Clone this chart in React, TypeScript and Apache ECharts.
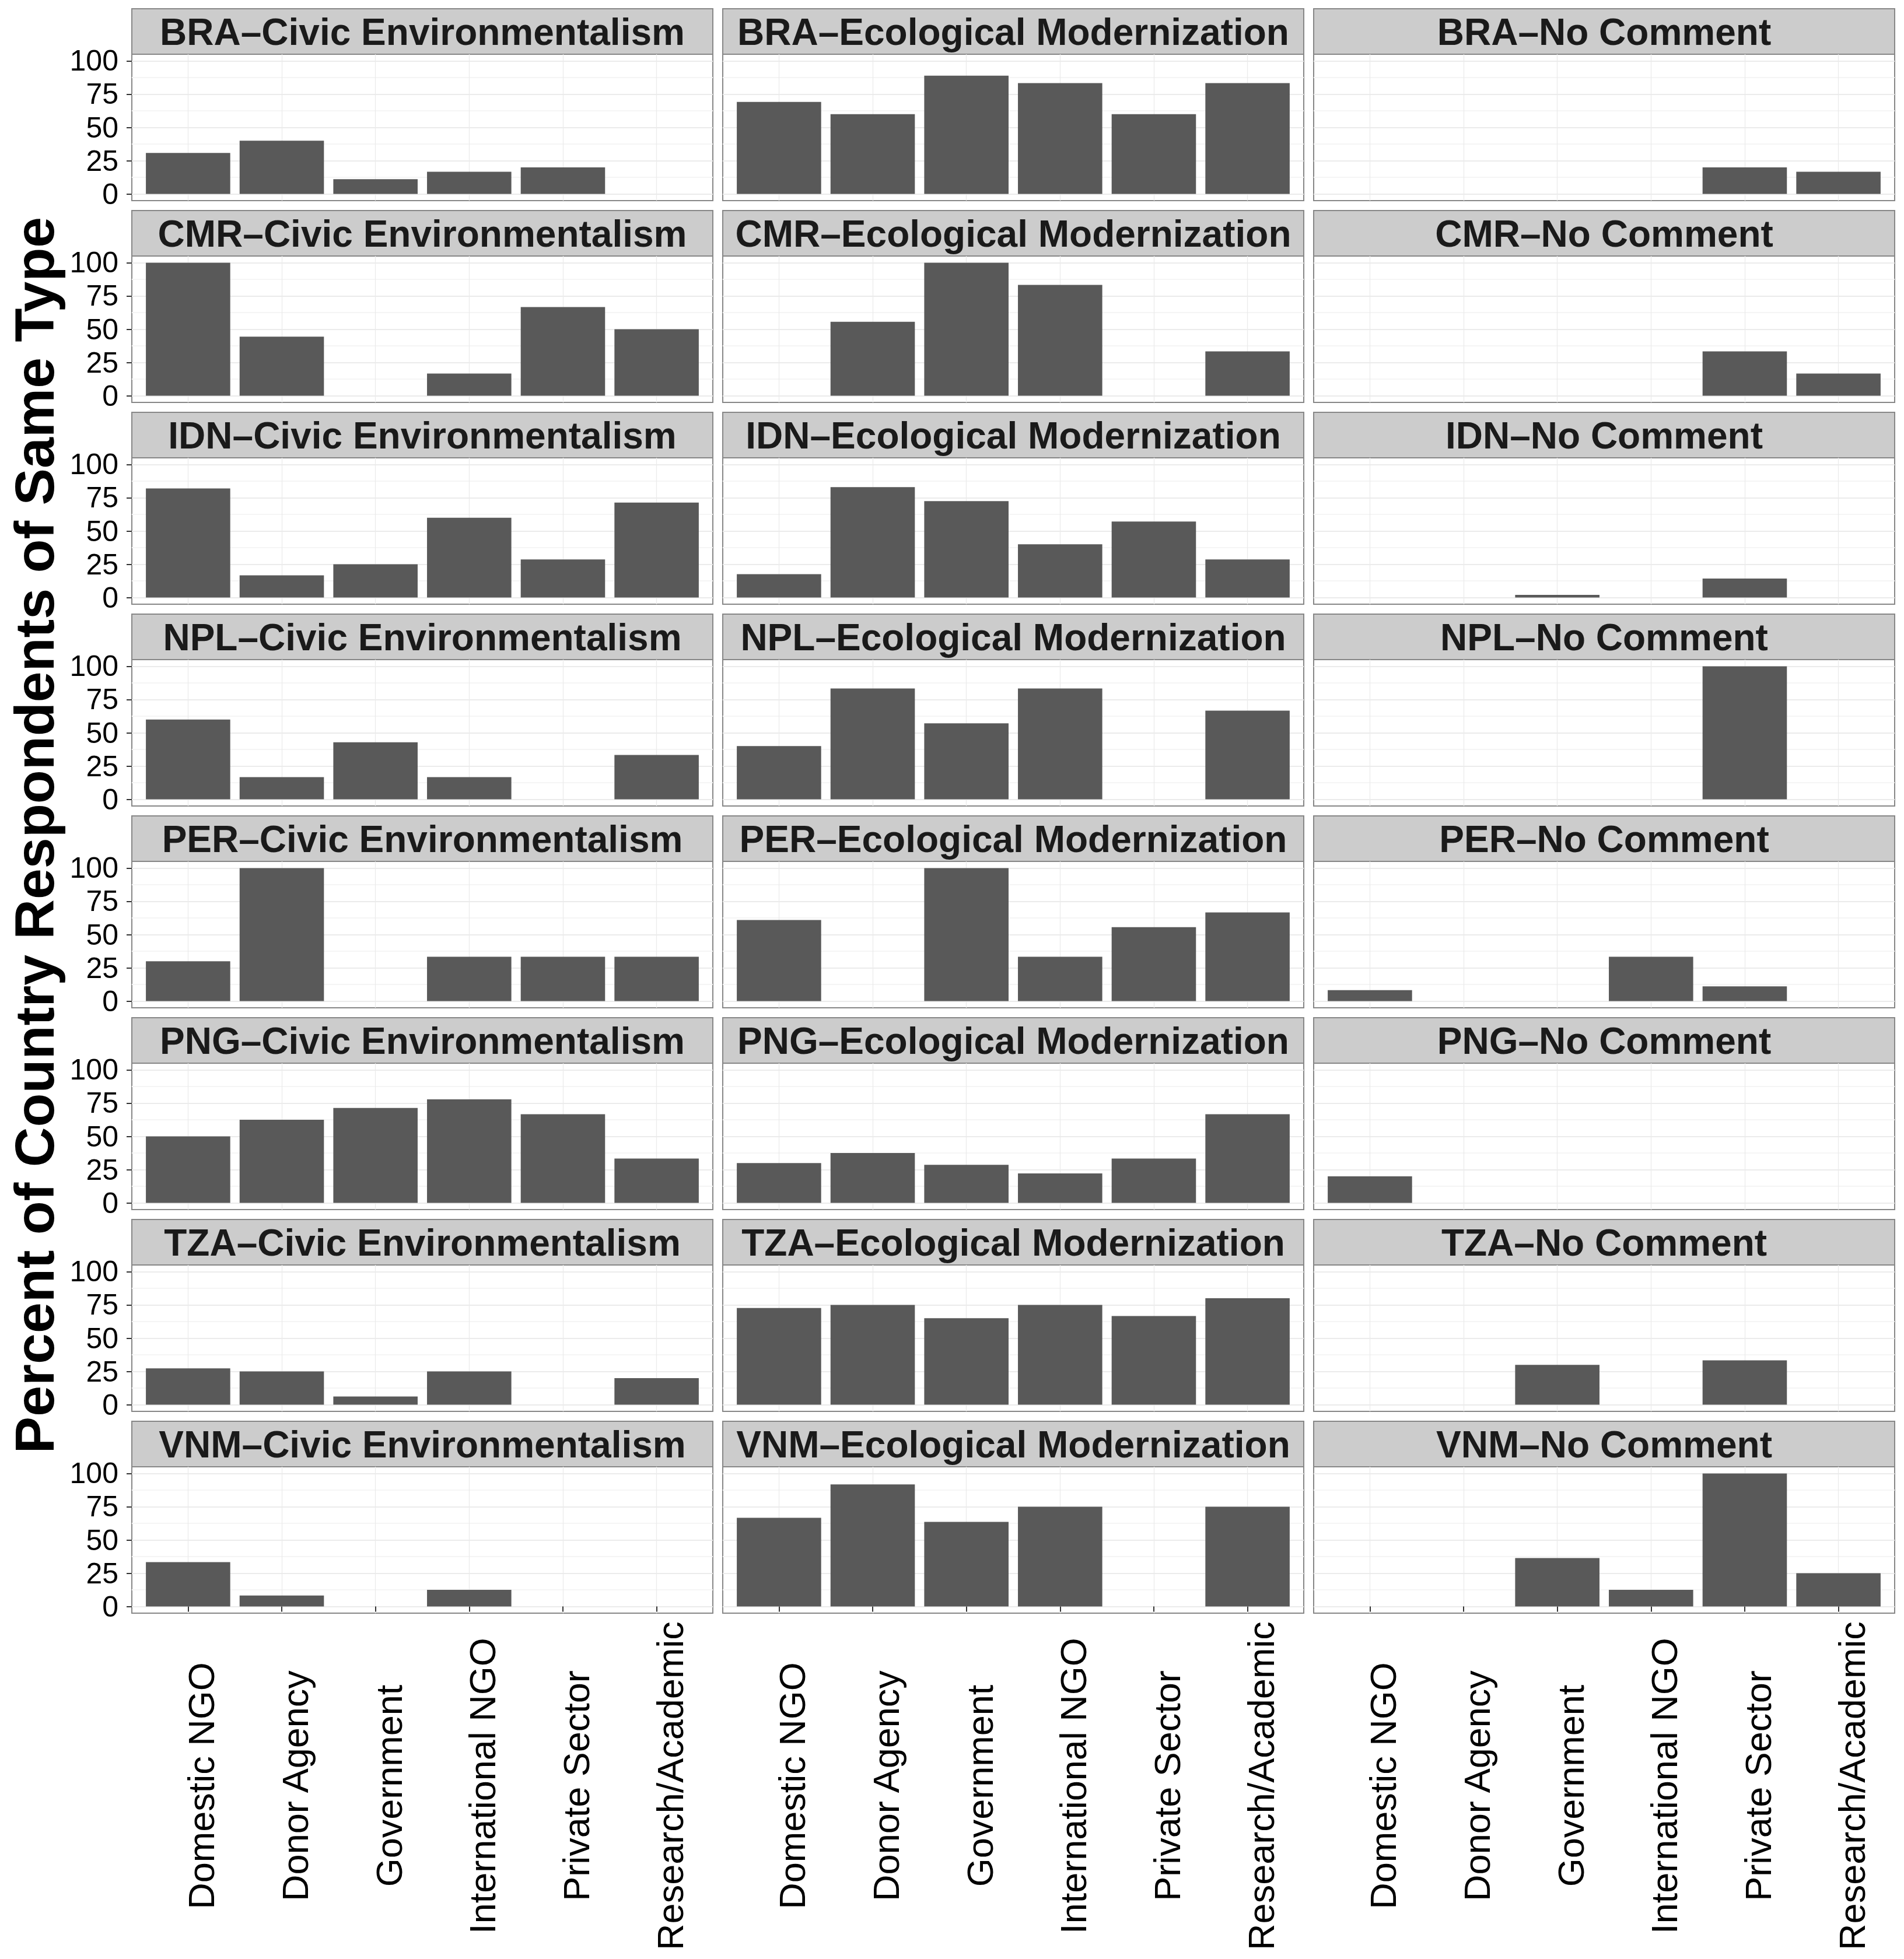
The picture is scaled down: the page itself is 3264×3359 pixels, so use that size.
import React, { useEffect, useRef } from "react";
import * as echarts from "echarts";

// ---------- data ----------
const CATEGORIES = [
  "Domestic NGO",
  "Donor Agency",
  "Government",
  "International NGO",
  "Private Sector",
  "Research/Academic",
];
const COUNTRIES = ["BRA", "CMR", "IDN", "NPL", "PER", "PNG", "TZA", "VNM"];
const FRAMES = ["Civic Environmentalism", "Ecological Modernization", "No Comment"];
const Y_TICKS = [0, 25, 50, 75, 100];
const Y_TITLE = "Percent of Country Respondents of Same Type";

// null = no bar
const BRA_CE = [30.8, 40, 11.1, 16.7, 20, null];
const BRA_EM = [69.2, 60, 88.9, 83.3, 60, 83.3];
const BRA_NC = [null, null, null, null, 20, 16.7];
const CMR_CE = [100, 44.4, null, 16.7, 66.7, 50];
const CMR_EM = [null, 55.6, 100, 83.3, null, 33.3];
const CMR_NC = [null, null, null, null, 33.3, 16.7];
const IDN_CE = [82, 16.7, 25, 60, 28.6, 71.4];
const IDN_EM = [17.6, 83, 72.5, 40, 57.1, 28.6];
const IDN_NC = [null, null, 2, null, 14.3, null];
const NPL_CE = [60, 16.7, 42.9, 16.7, null, 33.3];
const NPL_EM = [40, 83.3, 57.1, 83.3, null, 66.7];
const NPL_NC = [null, null, null, null, 100, null];
const PER_CE = [30, 100, null, 33.3, 33.3, 33.3];
const PER_EM = [61, null, 100, 33.3, 55.6, 66.7];
const PER_NC = [8.3, null, null, 33.3, 11.1, null];
const PNG_CE = [50, 62.5, 71.4, 77.8, 66.7, 33.3];
const PNG_EM = [30, 37.5, 28.6, 22.2, 33.3, 66.7];
const PNG_NC = [20, null, null, null, null, null];
const TZA_CE = [27.3, 25, 6.2, 25, null, 20];
const TZA_EM = [72.7, 75, 65, 75, 66.7, 80];
const TZA_NC = [null, null, 30, null, 33.3, null];
const VNM_CE = [33.3, 8.3, null, 12.5, null, null];
const VNM_EM = [66.7, 91.7, 63.6, 75, null, 75];
const VNM_NC = [null, null, 36.4, 12.5, 100, 25];

const TABLE: Record<string, (number | null)[][]> = {
  BRA: [BRA_CE, BRA_EM, BRA_NC],
  CMR: [CMR_CE, CMR_EM, CMR_NC],
  IDN: [IDN_CE, IDN_EM, IDN_NC],
  NPL: [NPL_CE, NPL_EM, NPL_NC],
  PER: [PER_CE, PER_EM, PER_NC],
  PNG: [PNG_CE, PNG_EM, PNG_NC],
  TZA: [TZA_CE, TZA_EM, TZA_NC],
  VNM: [VNM_CE, VNM_EM, VNM_NC],
};

// ---------- layout ----------
const W = 3264;
const H = 3359;
const FONT = "'Liberation Sans', Arial, Helvetica, sans-serif";
const COL_LEFT0 = 226;
const COL_PITCH = 1013;
const PANEL_W = 996;
const ROW_TOP0 = 15;
const ROW_PITCH = 346;
const STRIP_H = 78;
const PANEL_H = 251;
const Y_EXP = 5;
const Y_MAX = 100;
const X_EXP = 0.6;
const BORDER = "#878787";
const BAR = "#595959";

function buildOption() {
  const grid: any[] = [];
  const xAxis: any[] = [];
  const yAxis: any[] = [];
  const series: any[] = [];
  const graphic: any[] = [];
  const inset = (PANEL_H * Y_EXP) / (Y_MAX + 2 * Y_EXP);
  const catPos = CATEGORIES.map((_, i) => i + 1);
  const xMin = 1 - X_EXP;
  const xMax = CATEGORIES.length + X_EXP;

  COUNTRIES.forEach((country, r) => {
    FRAMES.forEach((frame, c) => {
      const left = COL_LEFT0 + c * COL_PITCH;
      const stripTop = ROW_TOP0 + r * ROW_PITCH;
      const top = stripTop + STRIP_H;
      const isBottom = r === COUNTRIES.length - 1;
      const isLeft = c === 0;
      const gOuter = grid.length;

      grid.push({
        left,
        top,
        width: PANEL_W,
        height: PANEL_H,
        show: true,
        backgroundColor: "#ffffff",
        borderColor: BORDER,
        borderWidth: 2,
        containLabel: false,
        outerBoundsMode: "none",
      });
      grid.push({
        left,
        top: top + inset,
        width: PANEL_W,
        height: PANEL_H - 2 * inset,
        show: false,
        containLabel: false,
        outerBoundsMode: "none",
      });

      xAxis.push({
        type: "value",
        gridIndex: gOuter,
        min: xMin,
        max: xMax,
        axisLine: { show: false },
        axisTick: {
          show: isBottom,
          customValues: catPos,
          length: 9,
          lineStyle: { color: "#333333", width: 2 },
        },
        axisLabel: {
          show: isBottom,
          customValues: catPos,
          formatter: (v: number) => CATEGORIES[Math.round(v) - 1] ?? "",
          rotate: 90,
          align: "center",
          verticalAlign: "top",
          lineHeight: 46,
          margin: 296,
          fontSize: 63,
          color: "#000000",
          fontFamily: FONT,
        },
        splitLine: { show: true, lineStyle: { color: "#EBEBEB", width: 1.3 } },
      });
      xAxis.push({
        type: "value",
        gridIndex: gOuter + 1,
        min: xMin,
        max: xMax,
        show: false,
      });
      yAxis.push({
        type: "value",
        gridIndex: gOuter,
        min: -Y_EXP,
        max: Y_MAX + Y_EXP,
        show: false,
      });
      yAxis.push({
        type: "value",
        gridIndex: gOuter + 1,
        min: Y_TICKS[0],
        max: Y_TICKS[Y_TICKS.length - 1],
        interval: Y_TICKS[1] - Y_TICKS[0],
        axisLine: { show: false },
        axisTick: {
          show: isLeft,
          length: 9,
          lineStyle: { color: "#333333", width: 2 },
        },
        axisLabel: {
          show: isLeft,
          margin: 23,
          fontSize: 50,
          lineHeight: 48,
          color: "#000000",
          fontFamily: FONT,
        },
        splitLine: { show: true, lineStyle: { color: "#EBEBEB", width: 2 } },
        minorTick: { show: false, splitNumber: 2 },
        minorSplitLine: { show: true, lineStyle: { color: "#F5F5F5", width: 2 } },
      });

      const vals = TABLE[country][c];
      series.push({
        type: "bar",
        xAxisIndex: gOuter + 1,
        yAxisIndex: gOuter + 1,
        barWidth: "90%",
        itemStyle: { color: BAR },
        silent: true,
        data: vals.map((v, i) => [catPos[i], v == null ? "-" : v]),
      });

      graphic.push({
        type: "rect",
        shape: { x: left, y: stripTop, width: PANEL_W, height: STRIP_H },
        style: { fill: "#CCCCCC", stroke: BORDER, lineWidth: 2 },
        silent: true,
      });
      graphic.push({
        type: "text",
        x: left + PANEL_W / 2,
        y: stripTop + STRIP_H / 2 + 1,
        silent: true,
        style: {
          text: `${country}\u2013${frame}`,
          fontSize: 64,
          fontWeight: "bold",
          fontFamily: FONT,
          fill: "#1A1A1A",
          align: "center",
          verticalAlign: "middle",
          textAlign: "center",
          textVerticalAlign: "middle",
        },
      });
    });
  });

  graphic.push({
    type: "text",
    x: 59,
    y: 1432,
    rotation: Math.PI / 2,
    silent: true,
    style: {
      text: Y_TITLE,
      fontSize: 95,
      fontWeight: "bold",
      fontFamily: FONT,
      fill: "#000000",
      align: "center",
      verticalAlign: "middle",
      textAlign: "center",
      textVerticalAlign: "middle",
    },
  });

  return {
    animation: false,
    backgroundColor: "#ffffff",
    grid,
    xAxis,
    yAxis,
    series,
    graphic,
  };
}

export default function App() {
  const ref = useRef<HTMLDivElement>(null);
  useEffect(() => {
    document.body.style.margin = "0";
    if (!ref.current) return;
    const chart = echarts.init(ref.current, undefined, { renderer: "svg", width: W, height: H });
    chart.setOption(buildOption() as any);
    return () => chart.dispose();
  }, []);
  return (
    <div
      ref={ref}
      style={{ position: "absolute", left: 0, top: 0, width: W, height: H, background: "#fff" }}
    />
  );
}
